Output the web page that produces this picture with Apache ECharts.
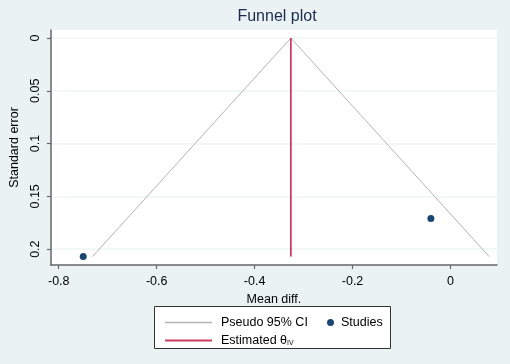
<!DOCTYPE html>
<html>
<head>
    <meta charset="utf-8">
    <script src="https://cdn.jsdelivr.net/npm/echarts@6/dist/echarts.min.js"></script>
</head>
<body style="margin:0;background:#eaf2f3;">
    <div id="main" style="width: 510px;height:364px;"></div>
    <script type="text/javascript">
        // values
        var funnelCI = [[-0.731, 0.207], [-0.326, 0], [0.079, 0.207]];
        var estimate = [[-0.326, 0], [-0.326, 0.207]];
        var studies = [[-0.750, 0.207], [-0.040, 0.171]];
        var xTicks = [-0.8, -0.6, -0.4, -0.2, 0];
        var yTicks = [0, 0.05, 0.1, 0.15, 0.2];

        var font = 'Liberation Sans, Arial, sans-serif';
        var myChart = echarts.init(document.getElementById('main'));

        var option = {
            animation: false,
            backgroundColor: '#eaf2f3',
            title: {
                text: 'Funnel plot',
                left: 272,
                textAlign: 'center',
                top: 4,
                textStyle: { fontFamily: font, fontSize: 16, fontWeight: 'normal', color: '#1c2a4d' }
            },
            grid: { left: 48, right: 13, top: 30, bottom: 99, show: true, backgroundColor: '#fff', borderWidth: 0 },
            xAxis: {
                type: 'value',
                min: -0.816,
                max: 0.095,
                splitNumber: 5,
                name: 'Mean diff.',
                nameLocation: 'middle',
                nameGap: 21,
                nameTextStyle: { fontFamily: font, fontSize: 12.5, color: '#000' },
                axisLine: { onZero: false, lineStyle: { color: '#666', width: 1.5 } },
                axisTick: { length: 4, customValues: xTicks, lineStyle: { color: '#666', width: 1.2 } },
                axisLabel: { customValues: xTicks, fontFamily: font, fontSize: 12.5, color: '#000', margin: 10 },
                splitLine: { show: false }
            },
            yAxis: {
                type: 'value',
                inverse: true,
                min: -0.0076,
                max: 0.215,
                splitNumber: 4,
                name: 'Standard error',
                nameLocation: 'middle',
                nameGap: 23,
                nameTextStyle: { fontFamily: font, fontSize: 12.5, color: '#000' },
                axisLine: { onZero: false, lineStyle: { color: '#666', width: 1.5 } },
                axisTick: { length: 4, customValues: yTicks, lineStyle: { color: '#666', width: 1.2 } },
                axisLabel: { customValues: yTicks, rotate: 90, fontFamily: font, fontSize: 12.5, color: '#000', margin: 9 },
                splitLine: { lineStyle: { color: '#eef4f5', width: 1.5 } }
            },
            legend: [
                {
                    data: ['Pseudo 95% CI'], left: 160, top: 311, icon: 'rect',
                    itemWidth: 47, itemHeight: 1.5,
                    textStyle: { fontFamily: font, fontSize: 12.5, color: '#000', padding: [0, 0, 0, 4] }
                },
                {
                    data: ['Studies'], left: 322, top: 311, icon: 'circle',
                    itemWidth: 7, itemHeight: 7,
                    textStyle: { fontFamily: font, fontSize: 12.5, color: '#000', padding: [0, 0, 0, 2] }
                },
                {
                    data: ['Estimated θ'], left: 160, top: 329, icon: 'rect',
                    itemWidth: 47, itemHeight: 1.8,
                    formatter: function (name) { return name + '{sub|IV}'; },
                    textStyle: {
                        fontFamily: font, fontSize: 12.5, color: '#000', padding: [0, 0, 0, 4],
                        rich: { sub: { fontFamily: font, fontSize: 7, color: '#000', verticalAlign: 'bottom', padding: [5, 0, 0, 0] } }
                    }
                }
            ],
            graphic: [{
                type: 'rect',
                shape: { x: 154.5, y: 306.5, width: 236, height: 42 },
                style: { fill: '#fff', stroke: '#333', lineWidth: 1 },
                z: -1
            }],
            series: [
                {
                    name: 'Pseudo 95% CI',
                    type: 'line',
                    data: funnelCI,
                    symbol: 'none',
                    lineStyle: { color: '#b4b4b4', width: 1 },
                    itemStyle: { color: '#b4b4b4' }
                },
                {
                    name: 'Estimated θ',
                    type: 'line',
                    data: estimate,
                    symbol: 'none',
                    lineStyle: { color: '#cc3d5f', width: 1.8 },
                    itemStyle: { color: '#cc3d5f' }
                },
                {
                    name: 'Studies',
                    type: 'scatter',
                    data: studies,
                    symbolSize: 7,
                    itemStyle: { color: '#1a476f', opacity: 1 }
                }
            ]
        };

        myChart.setOption(option);
    </script>
</body>
</html>
